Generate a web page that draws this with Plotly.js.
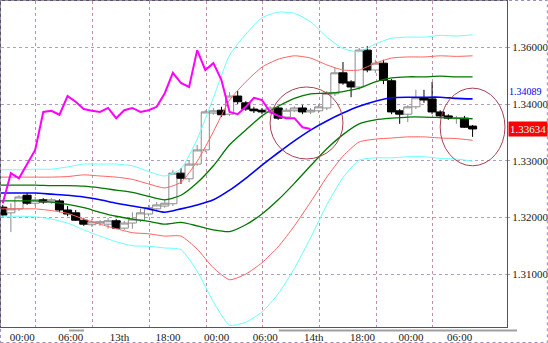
<!DOCTYPE html>
<html><head><meta charset="utf-8">
<script src="https://cdn.plot.ly/plotly-3.0.1.min.js"></script>
<style>html,body{margin:0;padding:0;background:#fff;}#chart{width:548px;height:343px;}</style>
</head><body><div id="chart"></div>
<script>
// hourly candles (index 0..58)
const candleOpen = [1.3218,1.3208,1.3215,1.3239,1.3225,1.3231,1.3227,1.3229,1.3213,1.3208,1.3195,1.3187,1.3190,1.3188,1.3194,1.3181,1.3190,1.3195,1.3206,1.3215,1.3220,1.3224,1.3278,1.3268,1.3294,1.3319,1.3384,1.3389,1.3382,1.3414,1.3402,1.3391,1.3389,1.3386,1.3393,1.3377,1.3388,1.3393,1.3386,1.3388,1.3393,1.3418,1.3455,1.3439,1.3430,1.3495,1.3460,1.3472,1.3441,1.3388,1.3382,1.3395,1.3411,1.3409,1.3386,1.3379,1.3374,1.3375,1.3361];
const candleHigh = [1.3222,1.3225,1.3239,1.3243,1.3236,1.3234,1.3234,1.3232,1.3220,1.3213,1.3199,1.3197,1.3195,1.3199,1.3197,1.3194,1.3209,1.3215,1.3222,1.3227,1.3232,1.3284,1.3287,1.3301,1.3328,1.3389,1.3393,1.3395,1.3421,1.3423,1.3405,1.3395,1.3393,1.3396,1.3396,1.3393,1.3396,1.3398,1.3393,1.3400,1.3423,1.3464,1.3474,1.3442,1.3499,1.3502,1.3478,1.3478,1.3444,1.3391,1.3398,1.3425,1.3425,1.3439,1.3389,1.3382,1.3379,1.3379,1.3363];
const candleLow = [1.3201,1.3174,1.3211,1.3222,1.3220,1.3224,1.3224,1.3209,1.3202,1.3194,1.3185,1.3183,1.3185,1.3180,1.3180,1.3178,1.3180,1.3192,1.3202,1.3211,1.3217,1.3220,1.3259,1.3262,1.3291,1.3315,1.3381,1.3377,1.3379,1.3400,1.3388,1.3384,1.3382,1.3382,1.3372,1.3374,1.3386,1.3382,1.3382,1.3384,1.3389,1.3414,1.3434,1.3412,1.3425,1.3456,1.3455,1.3435,1.3382,1.3365,1.3368,1.3391,1.3402,1.3382,1.3375,1.3372,1.3365,1.3358,1.3342];
const candleClose = [1.3204,1.3215,1.3236,1.3225,1.3231,1.3227,1.3231,1.3213,1.3206,1.3195,1.3188,1.3192,1.3192,1.3194,1.3181,1.3190,1.3197,1.3208,1.3217,1.3222,1.3225,1.3278,1.3269,1.3294,1.3319,1.3386,1.3388,1.3381,1.3414,1.3404,1.3391,1.3388,1.3386,1.3393,1.3375,1.3389,1.3393,1.3386,1.3389,1.3395,1.3419,1.3455,1.3437,1.3430,1.3495,1.3460,1.3472,1.3442,1.3386,1.3382,1.3395,1.3411,1.3407,1.3386,1.3379,1.3375,1.3375,1.3359,1.3356];
const candleX = candleOpen.map((_, i) => i);

// Bollinger-type bands, sampled every 2 candles
const bandX = [-0.3,2,4,6,8,10,12,14,16,18,20,22,24,26,28,30,32,34,36,38,40,42,44,46,48,50,52,54,56,58];
const cyanUpper = [1.3284,1.3284,1.3285,1.3285,1.3289,1.3294,1.3294,1.3294,1.3291,1.3281,1.3273,1.3286,1.3338,1.3411,1.3486,1.3523,1.3552,1.3562,1.3560,1.3545,1.3518,1.3498,1.3492,1.3506,1.3516,1.3518,1.3518,1.3521,1.3520,1.3522];
const redUpper = [1.3271,1.3271,1.3271,1.3271,1.3272,1.3275,1.3273,1.3271,1.3267,1.3259,1.3252,1.3262,1.3299,1.3351,1.3407,1.3439,1.3465,1.3479,1.3485,1.3481,1.3469,1.3460,1.3460,1.3472,1.3481,1.3483,1.3483,1.3485,1.3484,1.3485];
const greenUpper = [1.3257,1.3257,1.3257,1.3256,1.3256,1.3255,1.3252,1.3248,1.3244,1.3237,1.3231,1.3239,1.3261,1.3291,1.3328,1.3354,1.3379,1.3396,1.3410,1.3418,1.3419,1.3422,1.3428,1.3439,1.3446,1.3448,1.3448,1.3449,1.3448,1.3448];
const middleLine = [1.3243,1.3243,1.3243,1.3241,1.3239,1.3236,1.3231,1.3225,1.3220,1.3215,1.3209,1.3215,1.3222,1.3231,1.3248,1.3269,1.3292,1.3314,1.3335,1.3354,1.3370,1.3384,1.3396,1.3405,1.3411,1.3412,1.3412,1.3412,1.3410,1.3409];
const greenLower = [1.3229,1.3229,1.3229,1.3227,1.3223,1.3217,1.3209,1.3202,1.3197,1.3193,1.3188,1.3191,1.3185,1.3178,1.3175,1.3187,1.3206,1.3231,1.3260,1.3291,1.3321,1.3346,1.3365,1.3372,1.3375,1.3377,1.3377,1.3376,1.3375,1.3374];
const redLower = [1.3215,1.3215,1.3215,1.3212,1.3207,1.3197,1.3188,1.3180,1.3173,1.3171,1.3167,1.3167,1.3144,1.3111,1.3090,1.3100,1.3120,1.3148,1.3185,1.3227,1.3271,1.3308,1.3333,1.3338,1.3340,1.3342,1.3342,1.3340,1.3339,1.3336];
const cyanLower = [1.3202,1.3202,1.3201,1.3197,1.3190,1.3178,1.3167,1.3157,1.3150,1.3149,1.3146,1.3143,1.3105,1.3051,1.3010,1.3015,1.3033,1.3065,1.3110,1.3164,1.3222,1.3270,1.3301,1.3305,1.3305,1.3307,1.3307,1.3304,1.3303,1.3299];

// lagging line (magenta)
const lagX = [0,1,2,3,4,5,6,7,8,9,10,11,12,13,14,15,16,17,18,19,20,21,22,23,24,25,26,27,28,29,30,31,32,33,34,35,36,37,38];
const lagValues = [1.3225,1.3278,1.3269,1.3294,1.3319,1.3386,1.3388,1.3381,1.3414,1.3404,1.3391,1.3388,1.3386,1.3393,1.3375,1.3389,1.3393,1.3386,1.3389,1.3395,1.3419,1.3455,1.3437,1.3430,1.3495,1.3460,1.3472,1.3442,1.3386,1.3382,1.3395,1.3411,1.3407,1.3386,1.3379,1.3375,1.3375,1.3359,1.3356];

// axes
const timeLabelPos = [2.4,8.4,14.4,20.4,26.4,32.4,38.4,44.4,50.4,56.4];
const timeLabels = ['00:00','06:00','13th','18:00','00:00','06:00','14th','18:00','00:00','06:00'];
const gridPos = [4.1,11.1,18.1,25.1,32.1,39.1,46.1,53.1];
const priceTickVals = [1.35,1.34,1.33,1.32,1.31];
const priceTickText = ['1.36000','1.34000','1.33000','1.32000','1.31000'];
const middleLabelValue = 1.34089, middleLabelText = '1.34089';
const lastPriceText = '1.33634';

const xr = [-0.22, 62.25], yr = [1.30066, 1.35817];
const serif = 'Liberation Serif, DejaVu Serif, serif';

function line(x, y, color, width, shape) {
  return {type:'scatter', mode:'lines', x:x, y:y, line:{color:color, width:width, shape:shape||'spline', smoothing:0.6}, hoverinfo:'skip', showlegend:false};
}

const data = [
  {type:'candlestick', x:candleX, open:candleOpen, high:candleHigh, low:candleLow, close:candleClose,
   increasing:{line:{color:'#8c8c8c', width:1}, fillcolor:'#ffffff'},
   decreasing:{line:{color:'#000000', width:1}, fillcolor:'#000000'},
   whiskerwidth:0, hoverinfo:'skip', showlegend:false},
  line(bandX, cyanUpper, '#66ffff', 1),
  line(bandX, cyanLower, '#66ffff', 1),
  line(bandX, redUpper, '#ff5f5f', 1),
  line(bandX, redLower, '#ff5f5f', 1),
  line(bandX, greenUpper, '#007800', 1.3),
  line(bandX, greenLower, '#007800', 1.3),
  line(bandX, middleLine, '#0000ff', 1.6),
  line(lagX, lagValues, '#ff00ff', 2, 'linear')
];

const layout = {
  width:548, height:343,
  margin:{l:1, r:41, t:1, b:16},
  paper_bgcolor:'#ffffff', plot_bgcolor:'#ffffff',
  showlegend:false, hovermode:false, boxgap:0, boxgroupgap:0,
  font:{family:serif, size:11, color:'#202020'},
  xaxis:{range:xr, showgrid:false, zeroline:false, tickmode:'array', tickvals:timeLabelPos, ticktext:timeLabels,
         ticks:'', tickfont:{family:serif, size:11, color:'#202020'}, showline:true, mirror:true, linecolor:'#555555', linewidth:1,
         rangeslider:{visible:false}, fixedrange:true},
  xaxis2:{range:xr, overlaying:'x', showgrid:true, gridcolor:'#c090a8', griddash:'dot', gridwidth:1,
          tickmode:'array', tickvals:gridPos, showticklabels:false, ticks:'', zeroline:false, showline:false},
  yaxis:{range:yr, side:'right', tickmode:'array', tickvals:priceTickVals, ticktext:priceTickText,
         showgrid:true, gridcolor:'#b0a0c0', griddash:'dot', zeroline:false, ticks:'outside', ticklen:2, tickcolor:'#a0a0a0',
         tickfont:{family:serif, size:11, color:'#202020'}, showline:true, mirror:true, linecolor:'#555555', linewidth:1, fixedrange:true},
  shapes:[
    {type:'circle', xref:'x', yref:'y', x0:33.0, x1:42.0, y0:1.3303, y1:1.3430, line:{color:'#a8404f', width:1}},
    {type:'circle', xref:'x', yref:'y', x0:54.0, x1:62.0, y0:1.3291, y1:1.3428, line:{color:'#a8404f', width:1}},
    {type:'rect', xref:'paper', yref:'paper', x0:0.1344, x1:0.164, y0:-0.0138, y1:-0.0077, fillcolor:'#a0a0a0', line:{width:0}},
    {type:'rect', xref:'paper', yref:'paper', x0:0.549, x1:1.0198, y0:-0.0138, y1:-0.0077, fillcolor:'#a0a0a0', line:{width:0}},
    {type:'rect', xref:'paper', yref:'paper', x0:-0.001, x1:1.0797, y0:-0.0475, y1:1.0015, line:{color:'#9a8ab8', width:1, dash:'dot'}}
  ],
  annotations:[
    {xref:'paper', yref:'y', x:1, y:middleLabelValue, xanchor:'left', xshift:1, yshift:7, text:middleLabelText, showarrow:false,
     borderpad:0, font:{family:serif, size:10, color:'#0000ff'}},
    {xref:'paper', yref:'y', x:1, y:candleClose[candleClose.length-1], xanchor:'left', xshift:1, text:lastPriceText, showarrow:false,
     bgcolor:'#ff0000', borderpad:1, font:{family:serif, size:11, color:'#c8ffff'}}
  ]
};

// invisible trace on xaxis2 so its gridlines render
data.push({type:'scatter', x:[xr[0]], y:[yr[0]], xaxis:'x2', mode:'markers', marker:{opacity:0}, hoverinfo:'skip', showlegend:false});

Plotly.newPlot('chart', data, layout, {staticPlot:true, displayModeBar:false});
</script></body></html>
